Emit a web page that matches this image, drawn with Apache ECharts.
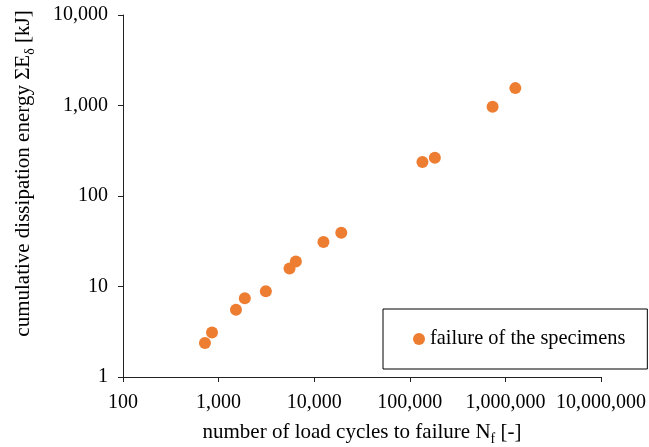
<!DOCTYPE html>
<html>
<head>
<meta charset="utf-8">
<script src="https://cdn.jsdelivr.net/npm/echarts@6/dist/echarts.min.js"></script>
<style>
  html, body { margin: 0; padding: 0; background: #fff; }
  #chart { width: 649px; height: 447px; }
</style>
</head>
<body>
<div id="chart"></div>
<script>
// cycles to failure N_f and cumulative dissipation energy (kJ)
const cycles = [720, 853, 1520, 1880, 3120, 5520, 6430, 12500, 19200, 135600, 182800, 734500, 1270000];
const energy = [2.38, 3.1, 5.52, 7.43, 8.88, 15.8, 18.9, 31.0, 39.2, 238, 265, 966, 1556];
const seriesName = "failure of the specimens";

const font = "Liberation Serif";
const fmt = (v) => Number(v).toLocaleString("en-US");

// subscript style for the axis names
const subStyle = { fontFamily: font, fontSize: 14, color: "#000", verticalAlign: "bottom", padding: [14, 0, 0, 0] };

const chart = echarts.init(document.getElementById("chart"));
const option = {
  backgroundColor: "#fff",
  textStyle: { fontFamily: font, color: "#000" },
  grid: { left: 123, right: 48, top: 15, bottom: 70, outerBoundsMode: "none", containLabel: false },
  legend: {
    data: [{ name: seriesName, icon: "circle" }],
    left: 383,
    top: 309,
    padding: [20, 22, 20, 30],
    itemWidth: 12,
    itemHeight: 12,
    itemGap: 5,
    borderColor: "#000",
    borderWidth: 1,
    itemStyle: { opacity: 1 },
    textStyle: { fontFamily: font, fontSize: 20.4, color: "#000" },
  },
  xAxis: {
    type: "log",
    logBase: 10,
    min: 100,
    max: 10000000,
    splitLine: { show: false },
    minorTick: { show: false },
    axisLine: { lineStyle: { color: "#222", width: 1 } },
    axisTick: { inside: false, length: 5, lineStyle: { color: "#222" } },
    axisLabel: { fontFamily: font, fontSize: 20, color: "#000", margin: 16, formatter: fmt },
    name: "number of load cycles to failure N{sub|f} [-]",
    nameLocation: "middle",
    nameGap: 41,
    nameTextStyle: {
      fontFamily: font,
      fontSize: 21,
      color: "#000",
      rich: { sub: subStyle },
    },
  },
  yAxis: {
    type: "log",
    logBase: 10,
    min: 1,
    max: 10000,
    splitLine: { show: false },
    minorTick: { show: false },
    axisLine: { show: true, lineStyle: { color: "#222", width: 1 } },
    axisTick: { show: true, inside: false, length: 5, lineStyle: { color: "#222" } },
    axisLabel: { fontFamily: font, fontSize: 20, color: "#000", margin: 15, formatter: fmt },
    name: "cumulative dissipation energy ΣE{sub|δ} [kJ]",
    nameLocation: "middle",
    nameGap: 86,
    nameTextStyle: {
      fontFamily: font,
      fontSize: 21,
      color: "#000",
      padding: [0, 0, 0, 45],
      rich: { sub: subStyle },
    },
  },
  series: [
    {
      name: seriesName,
      type: "scatter",
      symbol: "circle",
      symbolSize: 12,
      itemStyle: { color: "#ED7D31", opacity: 1 },
      data: cycles.map((c, i) => [c, energy[i]]),
    },
  ],
};
option && chart.setOption(option);
</script>
</body>
</html>
